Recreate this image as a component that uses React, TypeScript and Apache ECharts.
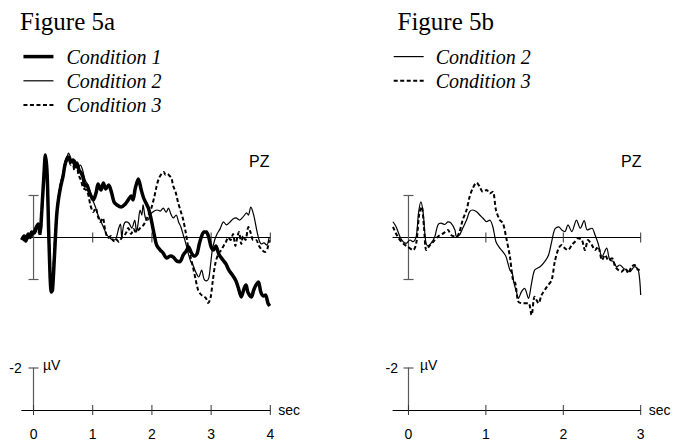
import React, { useEffect, useRef } from "react";
import * as echarts from "echarts";

type Pt = [number, number];

// Pz averages, time in seconds, amplitude in microvolts (negative plotted upward)
const cond1A: Pt[] = [
  [-0.2, 0.12], [-0.16, -0.07], [-0.13, 0.17], [-0.09, -0.17], [-0.06, 0], [-0.03, -0.26],
  [0.01, -0.21], [0.04, -0.45], [0.08, -0.64], [0.11, -0.26], [0.14, -1.3], [0.18, -3.2],
  [0.2, -3.93], [0.23, -3.0], [0.26, 0.12], [0.3, 2.6], [0.32, 2.5], [0.35, 1.07],
  [0.39, -1.02], [0.42, -1.8], [0.46, -2.45], [0.5, -2.93], [0.53, -3.45], [0.57, -3.79],
  [0.59, -3.83], [0.63, -3.6], [0.67, -3.69], [0.7, -3.4], [0.73, -3.55], [0.77, -3.2],
  [0.8, -3.1], [0.84, -2.83], [0.87, -2.45], [0.9, -2.5], [0.94, -2.17], [0.98, -1.93],
  [1.01, -1.79], [1.06, -2.17], [1.09, -2.55], [1.14, -2.26], [1.18, -2.6], [1.22, -2.31],
  [1.27, -2.5], [1.32, -2.12], [1.36, -1.69], [1.41, -1.55], [1.48, -1.45], [1.55, -1.6],
  [1.6, -1.79], [1.65, -1.98], [1.68, -1.79], [1.72, -2.36], [1.77, -2.79], [1.82, -2.26],
  [1.86, -1.88], [1.9, -1.64], [1.94, -1.4], [1.99, -0.83], [2.04, -0.12], [2.08, 0.36],
  [2.14, 0.6], [2.19, 0.74], [2.25, 0.98], [2.31, 0.88], [2.36, 0.93], [2.42, 1.12],
  [2.47, 1.15], [2.53, 0.83], [2.58, 0.64], [2.62, 0.45], [2.66, 0.69], [2.71, 0.88],
  [2.76, 0.79], [2.8, 0.31], [2.84, -0.07], [2.88, -0.26], [2.92, -0.26], [2.96, 0],
  [3.0, 0.45], [3.04, 0.6], [3.08, 0.4], [3.13, 0.79], [3.2, 1.07], [3.25, 1.26],
  [3.3, 1.55], [3.37, 1.83], [3.42, 2.07], [3.46, 2.4], [3.51, 2.83], [3.56, 2.4],
  [3.59, 2.26], [3.62, 2.6], [3.68, 2.83], [3.72, 2.5], [3.76, 2.26], [3.8, 2.12],
  [3.84, 2.6], [3.89, 2.79], [3.92, 2.74], [3.96, 3.12], [3.99, 3.26],
];

const cond2A: Pt[] = [
  [-0.2, 0.02], [-0.16, 0.17], [-0.13, -0.12], [-0.09, 0.07], [-0.06, -0.21], [-0.03, 0],
  [0.01, -0.36], [0.04, -0.26], [0.08, -0.5], [0.11, -0.21], [0.14, -1.2], [0.18, -3.1],
  [0.2, -3.79], [0.23, -2.83], [0.26, 0.21], [0.3, 2.5], [0.32, 2.4], [0.35, 0.83],
  [0.39, -1.2], [0.42, -1.98], [0.46, -2.64], [0.5, -3.12], [0.53, -3.6], [0.57, -3.88],
  [0.59, -4.02], [0.63, -3.79], [0.66, -3.55], [0.7, -3.69], [0.74, -3.31], [0.79, -3.45],
  [0.83, -3.21], [0.87, -2.74], [0.91, -2.55], [0.95, -2.26], [1.0, -1.79], [1.04, -1.5],
  [1.09, -1.07], [1.15, -0.69], [1.2, -0.36], [1.24, -0.12], [1.29, 0.02], [1.34, 0.12],
  [1.39, 0.07], [1.44, -0.45], [1.47, -0.64], [1.49, 0.02], [1.52, -0.55], [1.56, -0.74],
  [1.61, -0.69], [1.66, -0.45], [1.71, -0.83], [1.74, -0.26], [1.77, -0.74], [1.8, -1.31],
  [1.83, -1.07], [1.85, -1.55], [1.89, -0.93], [1.93, -0.83], [1.98, -1.12], [2.04, -1.26],
  [2.09, -1.31], [2.14, -1.26], [2.19, -1.4], [2.24, -1.21], [2.28, -1.4], [2.32, -1.12],
  [2.36, -0.93], [2.41, -1.07], [2.45, -0.74], [2.49, -0.5], [2.53, -0.12], [2.58, 0.36],
  [2.62, 0.83], [2.66, 1.17], [2.7, 1.36], [2.74, 1.64], [2.79, 1.88], [2.84, 1.55],
  [2.88, 1.98], [2.92, 2.07], [2.96, 1.93], [2.99, 1.31], [3.02, 0.6], [3.06, 0.12],
  [3.1, -0.17], [3.15, -0.4], [3.21, -0.74], [3.26, -0.6], [3.32, -0.74], [3.37, -0.88],
  [3.42, -0.93], [3.48, -0.83], [3.54, -0.98], [3.6, -1.17], [3.63, -1.07], [3.67, -1.45],
  [3.72, -1.07], [3.77, -0.36], [3.81, 0.12], [3.85, 0.31], [3.89, 0.26], [3.94, 0.36],
  [3.98, -0.02],
];

const cond3A: Pt[] = [
  [-0.2, 0.07], [-0.16, -0.07], [-0.13, 0.12], [-0.09, -0.12], [-0.06, 0.02], [-0.03, -0.17],
  [0.01, -0.12], [0.04, -0.36], [0.08, -0.31], [0.11, -0.07], [0.14, -1.1], [0.18, -2.93],
  [0.2, -3.6], [0.23, -2.74], [0.26, 0.12], [0.3, 2.36], [0.32, 2.26], [0.35, 0.69],
  [0.39, -1.12], [0.42, -1.88], [0.46, -2.55], [0.5, -3.02], [0.53, -3.4], [0.57, -3.69],
  [0.59, -3.74], [0.63, -3.45], [0.66, -3.64], [0.69, -3.21], [0.73, -3.4], [0.76, -2.98],
  [0.8, -2.74], [0.84, -2.36], [0.89, -2.26], [0.93, -1.98], [0.96, -1.55], [1.01, -1.21],
  [1.05, -1.4], [1.09, -0.98], [1.13, -0.74], [1.17, -0.93], [1.21, -0.36], [1.26, 0.02],
  [1.31, -0.07], [1.35, 0.17], [1.39, 0.07], [1.44, 0.21], [1.49, 0.02], [1.53, -0.07],
  [1.57, -0.26], [1.6, -0.45], [1.65, -0.17], [1.69, -0.4], [1.73, -0.26], [1.77, -0.36],
  [1.82, -0.5], [1.86, -0.6], [1.9, -0.83], [1.94, -1.07], [1.99, -1.4], [2.04, -1.93],
  [2.08, -2.45], [2.12, -2.83], [2.16, -3.02], [2.2, -3.12], [2.23, -2.98], [2.26, -3.02],
  [2.3, -2.93], [2.33, -2.83], [2.36, -2.45], [2.4, -2.17], [2.44, -1.69], [2.48, -1.31],
  [2.53, -0.83], [2.57, -0.26], [2.61, 0.4], [2.65, 0.88], [2.69, 1.36], [2.74, 2.02],
  [2.78, 2.5], [2.82, 2.69], [2.86, 2.79], [2.91, 2.88], [2.95, 3.12], [2.99, 2.88],
  [3.03, 2.02], [3.07, 1.26], [3.12, 0.79], [3.17, 0.6], [3.21, 0.4], [3.25, 0.21],
  [3.29, 0], [3.33, 0.12], [3.37, -0.17], [3.41, 0.4], [3.44, 0.02], [3.47, -0.26],
  [3.51, 0.31], [3.54, -0.07], [3.58, 0.12], [3.63, -0.5], [3.67, -0.21], [3.71, 0.12],
  [3.76, 0.12], [3.81, 0.4], [3.86, 0.6], [3.91, 0.69], [3.95, 0.55], [3.98, 0.12],
];

const cond2B: Pt[] = [
  [-0.2, -0.75], [-0.16, -0.51], [-0.11, -0.04], [-0.07, 0.2], [-0.03, 0.28], [0.02, 0.12],
  [0.06, 0.2], [0.1, -0.04], [0.13, -1.17], [0.16, -1.7], [0.19, -1.17], [0.22, 0.12],
  [0.25, 0.4], [0.29, 0.28], [0.34, -0.04], [0.38, -0.6], [0.42, -0.68], [0.47, -0.62],
  [0.51, -0.74], [0.55, -0.68], [0.6, -0.36], [0.62, -0.04], [0.66, -0.12], [0.7, -0.44],
  [0.75, -0.83], [0.79, -1.23], [0.83, -1.31], [0.88, -1.23], [0.92, -1.07], [0.96, -0.93],
  [1.01, -0.75], [1.05, -0.83], [1.09, -0.51], [1.13, 0.2], [1.18, 0.51], [1.22, 0.68],
  [1.26, 0.91], [1.31, 1.55], [1.34, 1.69], [1.36, 2.12], [1.4, 2.66], [1.42, 2.9],
  [1.46, 2.58], [1.5, 2.42], [1.55, 2.9], [1.59, 2.18], [1.63, 1.55], [1.7, 1.39],
  [1.76, 1.15], [1.81, 0.83], [1.85, 0.2], [1.89, -0.39], [1.94, -0.51], [1.98, -0.36],
  [2.02, -0.28], [2.06, -0.6], [2.11, -0.28], [2.17, -0.83], [2.22, -0.44], [2.27, -0.8],
  [2.31, -0.36], [2.37, -0.44], [2.41, -0.12], [2.45, 0.28], [2.5, 0.91], [2.56, 0.51],
  [2.6, 1.07], [2.65, 1.15], [2.69, 1.4], [2.73, 1.31], [2.78, 1.47], [2.82, 1.55],
  [2.86, 1.63], [2.92, 1.39], [2.97, 1.55], [3.0, 2.74],
];

const cond3B: Pt[] = [
  [-0.2, -0.51], [-0.14, -0.04], [-0.07, 0.28], [-0.01, 0.44], [0.06, 0.6], [0.1, 0.28],
  [0.14, -1.15], [0.17, -1.47], [0.2, -0.51], [0.23, 0.6], [0.27, 0.4], [0.32, 0.2],
  [0.38, -0.04], [0.45, -0.2], [0.51, -0.36], [0.55, -0.12], [0.62, -0.04], [0.66, -0.28],
  [0.7, -0.83], [0.75, -1.31], [0.79, -1.94], [0.83, -2.34], [0.88, -2.61], [0.92, -2.42],
  [0.96, -2.18], [1.01, -2.26], [1.05, -2.1], [1.09, -2.18], [1.13, -1.31], [1.18, -0.83],
  [1.22, -0.68], [1.26, -0.04], [1.31, 0.91], [1.35, 2.02], [1.38, 2.18], [1.42, 3.06],
  [1.48, 3.13], [1.55, 3.13], [1.59, 3.69], [1.63, 2.82], [1.68, 3.13], [1.72, 2.74],
  [1.79, 2.34], [1.85, 2.02], [1.89, 1.15], [1.94, 0.51], [1.98, 0.36], [2.02, 0.51],
  [2.06, 0.6], [2.11, 0.36], [2.15, 0.2], [2.19, 0.04], [2.24, 0.12], [2.28, 0.6],
  [2.32, 0.12], [2.37, 0.36], [2.41, 0.6], [2.45, 0.44], [2.5, 1.07], [2.54, 0.83],
  [2.58, 1.07], [2.63, 0.99], [2.67, 1.39], [2.71, 1.55], [2.75, 1.63], [2.8, 1.47],
  [2.84, 1.7], [2.88, 1.4], [2.92, 1.31], [2.97, 1.55], [3.0, 1.47],
];

// axis furniture
const timeRangeA: [number, number] = [-0.2, 4];
const timeRangeB: [number, number] = [-0.2, 3];
const secLabelsA = [0, 1, 2, 3, 4];
const secLabelsB = [0, 1, 2, 3];
const zeroTicksA = [1, 2, 3, 4];
const zeroTicksB = [1, 2, 3];
const scaleBar: [number, number] = [-2, 2]; // µV, drawn at t = 0
const calibLabels = [-2];
const ampRange: [number, number] = [-4.5, 4];
const calibRange: [number, number] = [-2, 0];

const legendA = ["Condition 1", "Condition 2", "Condition 3"];
const legendB = ["Condition 2", "Condition 3"];

const SERIF = "'Liberation Serif', 'Times New Roman', serif";
const SANS = "'Liberation Sans', Arial, Helvetica, sans-serif";
const BAR_GRAY = "#5a5a5a";

// stroke per condition, shared by the traces and the legend samples
const condStroke: Record<string, { width: number; type: any }> = {
  "Condition 1": { width: 3.5, type: "solid" },
  "Condition 2": { width: 1.2, type: "solid" },
  "Condition 3": { width: 2, type: [4, 2.5] },
};

const renderTick = (_p: any, api: any) => {
  const c = api.coord([api.value(0), api.value(1)]);
  return {
    type: "line",
    shape: { x1: c[0], y1: c[1] - 5, x2: c[0], y2: c[1] + 5 },
    style: { stroke: "#333", lineWidth: 1 },
  };
};

const renderCap = (_p: any, api: any) => {
  const c = api.coord([api.value(0), api.value(1)]);
  return {
    type: "line",
    shape: { x1: c[0] - 5, y1: c[1], x2: c[0] + 5, y2: c[1] },
    style: { stroke: BAR_GRAY, lineWidth: 1.2 },
  };
};

const renderBar = (_p: any, api: any) => {
  const t = api.value(0);
  const a = api.coord([t, api.value(1)]);
  const b = api.coord([t, api.value(2)]);
  const st = { stroke: BAR_GRAY, lineWidth: 1.2 };
  return {
    type: "group",
    children: [
      { type: "line", shape: { x1: a[0], y1: a[1], x2: b[0], y2: b[1] }, style: st },
      { type: "line", shape: { x1: a[0] - 5, y1: a[1], x2: a[0] + 5, y2: a[1] }, style: st },
      { type: "line", shape: { x1: b[0] - 5, y1: b[1], x2: b[0] + 5, y2: b[1] }, style: st },
    ],
  };
};

const waveX = (range: [number, number], gridIndex: number) => ({
  type: "value",
  gridIndex,
  min: range[0],
  max: range[1],
  axisLine: { show: true, onZero: true, lineStyle: { color: "#000", width: 1 } },
  axisTick: { show: false },
  axisLabel: { show: false },
  splitLine: { show: false },
});

const calibX = (range: [number, number], gridIndex: number, labels: number[]) => ({
  type: "value",
  gridIndex,
  min: range[0],
  max: range[1],
  name: "sec",
  nameLocation: "end",
  nameGap: 8,
  nameTextStyle: { fontFamily: SANS, fontSize: 14, color: "#000" },
  axisLine: { show: true, onZero: true, lineStyle: { color: "#000", width: 1 } },
  axisTick: { show: false },
  axisLabel: {
    show: true,
    customValues: labels,
    margin: 17,
    fontFamily: SANS,
    fontSize: 14,
    color: "#000",
  },
  splitLine: { show: false },
});

const waveY = (gridIndex: number) => ({
  type: "value",
  gridIndex,
  min: ampRange[0],
  max: ampRange[1],
  inverse: true,
  show: false,
});

// the "-2" label sits at the grid's left edge, so its margin is set per panel
const calibY = (gridIndex: number, labelMargin: number) => ({
  type: "value",
  gridIndex,
  min: calibRange[0],
  max: calibRange[1],
  inverse: true,
  axisLine: { show: true, onZero: true, lineStyle: { color: BAR_GRAY, width: 1.2 } },
  axisTick: { show: false },
  axisLabel: {
    show: true,
    customValues: calibLabels,
    margin: labelMargin,
    fontFamily: SANS,
    fontSize: 14,
    color: "#000",
  },
  splitLine: { show: false },
});

const lineSeries = (name: string, data: Pt[], axis: number, z: number) => ({
  type: "line",
  name,
  data,
  xAxisIndex: axis,
  yAxisIndex: axis,
  symbol: "none",
  smooth: 0.3,
  silent: true,
  z,
  itemStyle: { color: "#000" },
  lineStyle: { color: "#000", width: condStroke[name].width, type: condStroke[name].type },
});

const legendStyle = (left: number, names: string[], gap: number) => ({
  data: names.map((name) => ({
    name,
    lineStyle: { color: "#000", width: condStroke[name].width, type: condStroke[name].type },
  })),
  left,
  top: 46.6,
  orient: "vertical",
  padding: 0,
  itemWidth: 30,
  itemHeight: 14,
  itemGap: 4.2,
  selectedMode: false,
  // hide the marker dot so only the line sample remains
  itemStyle: { opacity: 0, borderWidth: 0 },
  textStyle: {
    fontFamily: SERIF,
    fontStyle: "italic",
    fontSize: 20,
    color: "#000",
    padding: [0, 0, 0, gap],
  },
});

export default function App() {
  const ref = useRef<HTMLDivElement>(null);

  useEffect(() => {
    if (!ref.current) return;
    const chart = echarts.init(ref.current, undefined, { renderer: "svg" });

    const option: any = {
      animation: false,
      backgroundColor: "#fff",
      title: [
        {
          text: "Figure 5a",
          left: 20,
          top: 8.5,
          padding: 0,
          textStyle: { fontFamily: SERIF, fontSize: 25, fontWeight: "normal", color: "#000" },
        },
        {
          text: "Figure 5b",
          left: 397.5,
          top: 8.5,
          padding: 0,
          textStyle: { fontFamily: SERIF, fontSize: 25, fontWeight: "normal", color: "#000" },
        },
      ],
      legend: [legendStyle(21.7, legendA, 8), legendStyle(392.7, legendB, 7)],
      grid: [
        { left: 21.7, top: 143, width: 248.6, height: 178.5, outerBoundsMode: "none" },
        { left: 393, top: 143, width: 247.7, height: 178.5, outerBoundsMode: "none" },
        { left: 21.7, top: 368, width: 248.6, height: 42, outerBoundsMode: "none" },
        { left: 393, top: 368, width: 247.7, height: 42, outerBoundsMode: "none" },
      ],
      xAxis: [
        waveX(timeRangeA, 0),
        waveX(timeRangeB, 1),
        calibX(timeRangeA, 2, secLabelsA),
        calibX(timeRangeB, 3, secLabelsB),
      ],
      yAxis: [waveY(0), waveY(1), calibY(2, 0), calibY(3, -5)],
      series: [
        lineSeries("Condition 3", cond3A, 0, 3),
        lineSeries("Condition 2", cond2A, 0, 4),
        lineSeries("Condition 1", cond1A, 0, 5),
        lineSeries("Condition 3", cond3B, 1, 3),
        lineSeries("Condition 2", cond2B, 1, 4),
        {
          type: "custom",
          xAxisIndex: 0,
          yAxisIndex: 0,
          silent: true,
          renderItem: renderTick,
          data: zeroTicksA.map((t) => [t, 0]),
        },
        {
          type: "custom",
          xAxisIndex: 1,
          yAxisIndex: 1,
          silent: true,
          renderItem: renderTick,
          data: zeroTicksB.map((t) => [t, 0]),
        },
        {
          type: "custom",
          xAxisIndex: 0,
          yAxisIndex: 0,
          silent: true,
          renderItem: renderBar,
          data: [[0, scaleBar[0], scaleBar[1]]],
        },
        {
          type: "custom",
          xAxisIndex: 1,
          yAxisIndex: 1,
          silent: true,
          renderItem: renderBar,
          data: [[0, scaleBar[0], scaleBar[1]]],
        },
        {
          type: "custom",
          xAxisIndex: 2,
          yAxisIndex: 2,
          silent: true,
          renderItem: renderTick,
          data: secLabelsA.map((t) => [t, 0]),
        },
        {
          type: "custom",
          xAxisIndex: 3,
          yAxisIndex: 3,
          silent: true,
          renderItem: renderTick,
          data: secLabelsB.map((t) => [t, 0]),
        },
        {
          type: "custom",
          xAxisIndex: 2,
          yAxisIndex: 2,
          silent: true,
          renderItem: renderCap,
          data: calibLabels.map((v) => [0, v]),
        },
        {
          type: "custom",
          xAxisIndex: 3,
          yAxisIndex: 3,
          silent: true,
          renderItem: renderCap,
          data: calibLabels.map((v) => [0, v]),
        },
      ],
      graphic: [
        {
          type: "text",
          x: 269.5,
          y: 161,
          silent: true,
          style: { text: "PZ", fill: "#000", font: `16px ${SANS}`, align: "right", verticalAlign: "middle" },
        },
        {
          type: "text",
          x: 641.5,
          y: 161,
          silent: true,
          style: { text: "PZ", fill: "#000", font: `16px ${SANS}`, align: "right", verticalAlign: "middle" },
        },
        {
          type: "text",
          x: 43,
          y: 365,
          silent: true,
          style: { text: "µV", fill: "#000", font: `14px ${SANS}`, align: "left", verticalAlign: "middle" },
        },
        {
          type: "text",
          x: 420,
          y: 365,
          silent: true,
          style: { text: "µV", fill: "#000", font: `14px ${SANS}`, align: "left", verticalAlign: "middle" },
        },
      ],
    };

    chart.setOption(option);
    return () => chart.dispose();
  }, []);

  return (
    <div
      ref={ref}
      style={{ position: "absolute", left: 0, top: 0, width: 674, height: 441, background: "#fff" }}
    />
  );
}
